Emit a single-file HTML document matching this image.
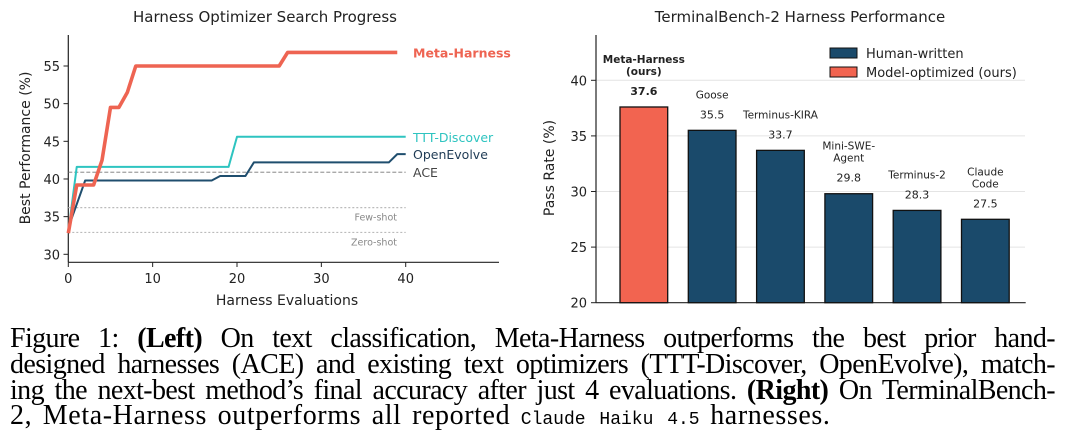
<!DOCTYPE html>
<html><head><meta charset="utf-8"><style>
body{margin:0;background:#fff;width:1065px;height:442px;overflow:hidden;font-family:"DejaVu Sans","Liberation Sans",sans-serif}
svg text{font-family:"DejaVu Sans","Liberation Sans",sans-serif}
.cap{position:absolute;left:10px;width:1045px;font-family:"Liberation Serif",serif;font-size:28px;letter-spacing:-0.6px;text-align:justify;text-align-last:justify;white-space:nowrap;line-height:26px}
.cap.last{text-align-last:left;letter-spacing:0.6px;word-spacing:3px}
.mono{font-family:"Liberation Mono",monospace;font-size:18px;letter-spacing:0}
</style></head><body>
<svg id="chart" width="1065" height="320" style="position:absolute;left:0;top:0"></svg>
<div class="cap" style="top:326px">Figure 1: <b>(Left)</b> On text classification, Meta-Harness outperforms the best prior hand-</div>
<div class="cap" style="top:352px">designed harnesses (ACE) and existing text optimizers (TTT-Discover, OpenEvolve), match-</div>
<div class="cap" style="top:378px">ing the next-best method’s final accuracy after just 4 evaluations. <b>(Right)</b> On TerminalBench-</div>
<div class="cap last" style="top:403px">2, Meta-Harness outperforms all reported <span class="mono">Claude Haiku 4.5</span> harnesses.</div>
<script>
// Left chart data
const metaX=[0,1,3,4,5,6,7,8,25,26,39];
const metaY=[32.8,39.2,39.2,42.5,49.5,49.5,51.5,55,55,56.8,56.8];
const tttX=[0,1,19,20,40];
const tttY=[33,41.6,41.6,45.6,45.6];
const oeX=[0,2,17,18,21,22,38,39,40];
const oeY=[33.5,39.8,39.8,40.4,40.4,42.2,42.2,43.3,43.3];
const refNames=["ACE","Few-shot","Zero-shot"];
const refValues=[40.9,36.2,32.9];
const leftXTicks=[0,10,20,30,40];
const leftYTicks=[30,35,40,45,50,55];
// Right chart data
const barNames=[["Meta-Harness","(ours)"],["Goose"],["Terminus-KIRA"],["Mini-SWE-","Agent"],["Terminus-2"],["Claude","Code"]];
const barValues=[37.6,35.5,33.7,29.8,28.3,27.5];
const barOurs=[true,false,false,false,false,false];
const rightYTicks=[20,25,30,35,40];

const svg=document.getElementById('chart');
const NS='http://www.w3.org/2000/svg';
function mk(tag,attrs,parent){const e=document.createElementNS(NS,tag);for(const k in attrs)e.setAttribute(k,attrs[k]);(parent||svg).appendChild(e);return e;}
function tx(x,y,s,attrs){const e=mk('text',Object.assign({x:x,y:y},attrs||{}));e.textContent=s;return e;}

const lx=v=>68.3+v*(405.7-68.3)/40;
const ly=v=>254.3-(v-30)*(254.3-66)/25;
let t=tx(265,22,'Harness Optimizer Search Progress',{'font-size':15,'text-anchor':'middle',fill:'#222'});


let a=mk('line',{x1:68.3,y1:35,x2:68.3,y2:262.3,stroke:'#222','stroke-width':1.2});

a=mk('line',{x1:68.3,y1:262.3,x2:499,y2:262.3,stroke:'#222','stroke-width':1.2});

leftXTicks.forEach(v=>{mk('line',{x1:lx(v),y1:262.3,x2:lx(v),y2:267,stroke:'#222'});
 const e=tx(lx(v),283,String(v),{'font-size':13,'text-anchor':'middle',fill:'#222'});
 });
leftYTicks.forEach(v=>{mk('line',{x1:63.5,y1:ly(v),x2:68.3,y2:ly(v),stroke:'#222'});
 const e=tx(60,ly(v)+5,String(v),{'font-size':13,'text-anchor':'end',fill:'#222'});
 });
t=tx(287,305,'Harness Evaluations',{'font-size':14,'text-anchor':'middle',fill:'#222'});

t=tx(0,0,'Best Performance (%)',{'font-size':14,'text-anchor':'middle',fill:'#222',transform:'translate(30,148) rotate(-90)'});

refValues.forEach((v,i)=>{const ace=i===0;
 const l=mk('line',{x1:lx(0),x2:lx(40),y1:ly(v),y2:ly(v),stroke:ace?'#777':'#bbb','stroke-width':ace?0.9:1.2,'stroke-dasharray':ace?'4,2':'2,2'});
 
 let e;
 if(ace) e=tx(413,ly(v)+5,refNames[i],{'font-size':12.5,fill:'#444'});
 else e=tx(397,ly(v)+13,refNames[i],{'font-size':9.5,'text-anchor':'end',fill:'#888'});
 });
function series(xs,ys,color,w,name){const p=mk('polyline',{points:xs.map((x,i)=>lx(x)+','+ly(ys[i])).join(' '),fill:'none',stroke:color,'stroke-width':w,'stroke-linejoin':'round'});
 }
series(oeX,oeY,'#1f4e6e',2,'openevolve-line');
series(tttX,tttY,'#2ec4c0',2,'ttt-discover-line');
series(metaX,metaY,'#ee6452',3.6,'meta-harness-line');
t=tx(413,ly(metaY[metaY.length-1])+5,'Meta-Harness',{'font-size':12.5,'font-weight':'bold',fill:'#ee6452'});

t=tx(413,ly(tttY[tttY.length-1])+5,'TTT-Discover',{'font-size':12.5,fill:'#2ec4c0'});

t=tx(413,ly(oeY[oeY.length-1])+5,'OpenEvolve',{'font-size':12.5,fill:'#1f3b55'});


const rx0=596, bw=47.7, step=68.3, bx0=620;
const ry=v=>302.7-(v-20)*(302.7-80.3)/20;
t=tx(800,22,'TerminalBench-2 Harness Performance',{'font-size':15,'text-anchor':'middle',fill:'#222'});

rightYTicks.forEach(v=>{
 if(v>20){const g=mk('line',{x1:rx0,x2:1025,y1:ry(v),y2:ry(v),stroke:'#e4e4e4','stroke-width':1});
 }
 mk('line',{x1:rx0-5,x2:rx0,y1:ry(v),y2:ry(v),stroke:'#222'});
 const e=tx(rx0-9,ry(v)+5,String(v),{'font-size':13,'text-anchor':'end',fill:'#222'});
 });
a=mk('line',{x1:rx0,y1:35,x2:rx0,y2:302.7,stroke:'#222','stroke-width':1.2});

a=mk('line',{x1:rx0,y1:302.7,x2:1025.7,y2:302.7,stroke:'#222','stroke-width':1.2});

t=tx(0,0,'Pass Rate (%)',{'font-size':14,'text-anchor':'middle',fill:'#222',transform:'translate(554,168) rotate(-90)'});

const lg=mk('g',{});

mk('rect',{x:830,y:48,width:27,height:10,fill:'#1a4a6b',stroke:'#111','stroke-width':1},lg);
tx(866,58,'Human-written',{'font-size':13,fill:'#222'});
mk('rect',{x:830,y:67,width:27,height:10,fill:'#f26450',stroke:'#111','stroke-width':1},lg);
tx(866,77,'Model-optimized (ours)',{'font-size':13,fill:'#222'});
barValues.forEach((v,i)=>{
 const x=bx0+i*step, cx=x+bw/2;
 const r=mk('rect',{x:x,y:ry(v),width:bw,height:302.7-ry(v),fill:barOurs[i]?'#f26450':'#1a4a6b',stroke:'#111','stroke-width':1.3});
 
 
 const bold=barOurs[i];
 const vy=ry(v)-12;
 const vl=tx(cx,vy,v.toFixed(1),{'font-size':11,'text-anchor':'middle',fill:'#222','font-weight':bold?'bold':'normal'});
 
 const names=barNames[i];
 names.forEach((n,j)=>{
  const ny=vy-20-(names.length-1-j)*12;
  const nl=tx(cx,ny,n,{'font-size':10.5,'text-anchor':'middle',fill:'#222','font-weight':bold?'bold':'normal'});
  
 });
});
</script>
</body></html>
